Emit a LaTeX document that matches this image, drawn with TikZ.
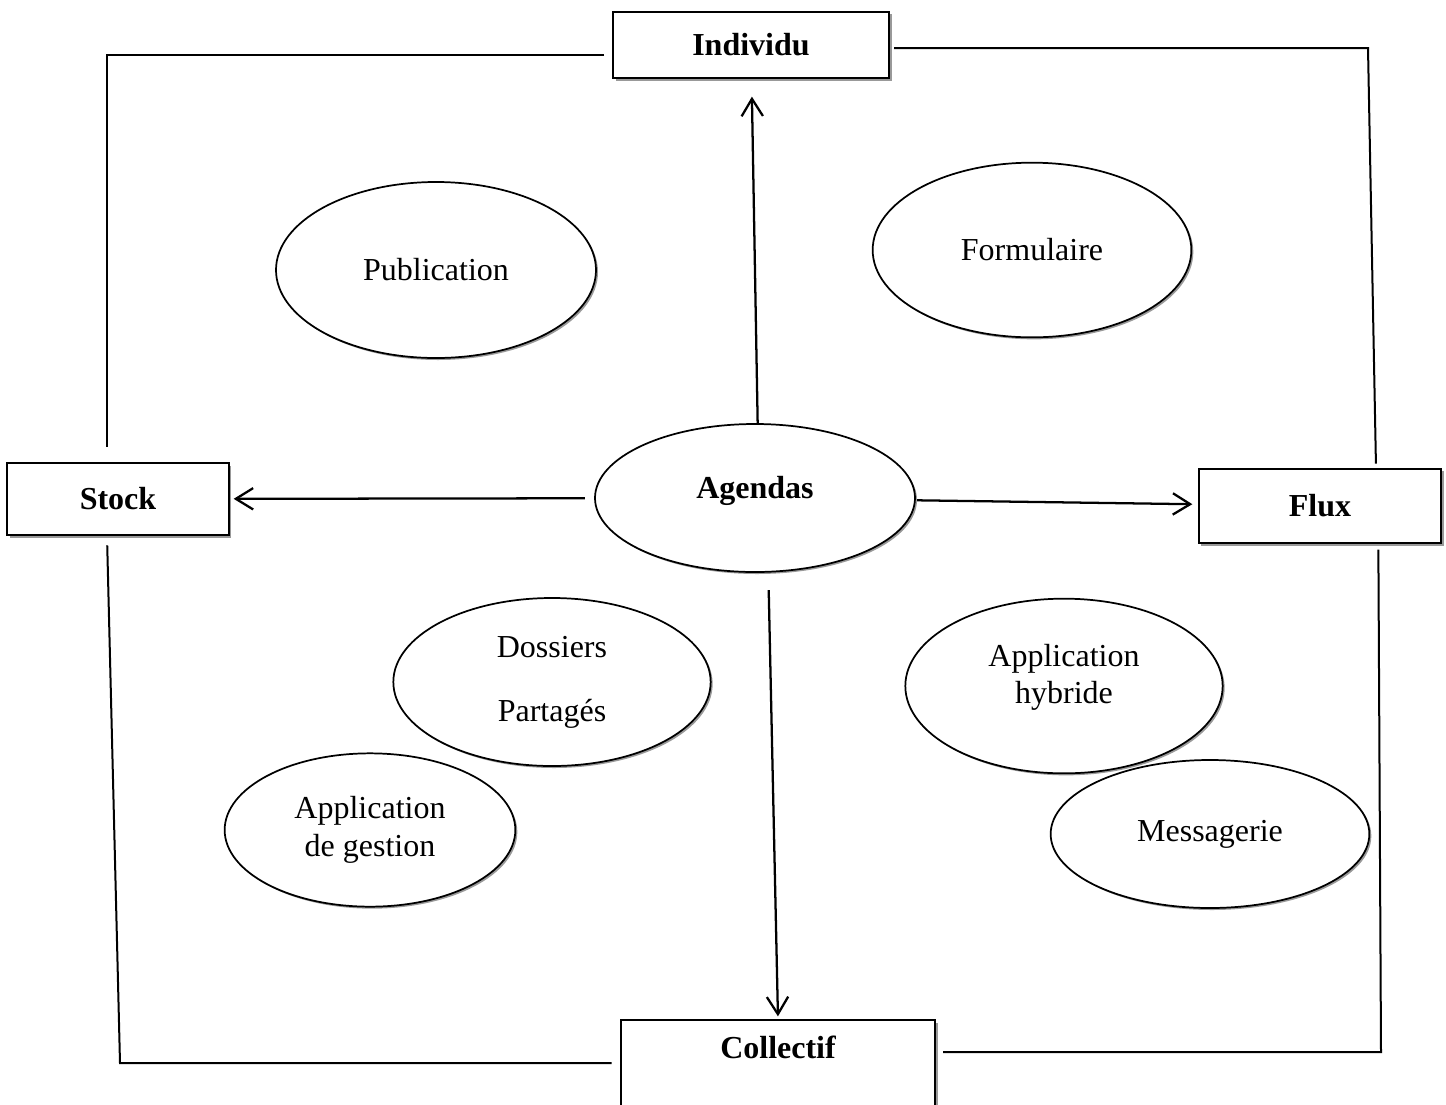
\documentclass[tikz,border=0pt]{standalone}
\usepackage{fontspec}
\setmainfont{Liberation Serif}
\usetikzlibrary{shapes.geometric,shadows,arrows.meta}

\begin{document}
\begin{tikzpicture}[x=0.75pt,y=-0.75pt,
        every node/.style={font=\fontsize{24}{28}\selectfont},
        box/.style={rectangle, draw=black, line width=1.5pt, fill=white, inner sep=0pt,
            font=\fontsize{24}{28}\selectfont\bfseries,
            drop shadow={shadow xshift=2pt, shadow yshift=-2pt, fill=black!40, opacity=1}},
        bubble/.style={ellipse, draw=black, line width=1.3pt, fill=white, inner sep=0pt, align=center,
            drop shadow={shadow xshift=1.5pt, shadow yshift=-1.5pt, fill=black!40, opacity=1}},
        frame/.style={line width=1.5pt},
        arrow/.style={line width=1.7pt, -{Straight Barb[length=13pt, width=16pt, line width=1.7pt]}}]
    \useasboundingbox (0,0) rectangle (1446,1104);

    \node[box, minimum width=207pt, minimum height=50pt] (individu) at (751,45) {Individu};
    \node[box, minimum width=166pt, minimum height=54pt] (stock) at (118,499) {Stock};
    \node[box, minimum width=182pt, minimum height=56pt] (flux) at (1320,506) {Flux};
    \node[box, anchor=north, minimum width=236pt, text height=16pt, text depth=60pt, inner ysep=13pt] (collectif) at (778,1019) {Collectif};

    \node[bubble, minimum width=240pt, minimum height=111pt, text depth=16pt, font=\fontsize{24}{28}\selectfont\bfseries] (agendas) at (755,498) {Agendas};
    \node[bubble, minimum width=240pt, minimum height=132pt] (publication) at (436,270) {Publication};
    \node[bubble, minimum width=239pt, minimum height=131pt] (formulaire) at (1032,250) {Formulaire};
    \node[bubble, minimum width=238pt, minimum height=126pt] (dossiers) at (552,682) {Dossiers\\[20pt]Partagés};
    \node[bubble, minimum width=218pt, minimum height=115pt] (gestion) at (370,830) {Application\\de gestion};
    \node[bubble, minimum width=238pt, minimum height=131pt] (hybride) at (1064,686) {Application\\hybride\\[-10pt]\mbox{}};
    \node[bubble, minimum width=239pt, minimum height=111pt] (messagerie) at (1210,834) {Messagerie};

    \coordinate (tl) at (107,55);
    \coordinate (tr) at (1368,48);
    \coordinate (bl) at (120,1063);
    \coordinate (br) at (1381,1052);

    \draw[frame, shorten <=6pt, shorten >=11pt] (individu.west |- tl) -- (tl) -- (tl |- stock.north);
    \draw[frame, shorten <=3pt, shorten >=3pt] (individu.east |- tr) -- (tr) -- ([xshift=6pt]tr |- flux.north);
    \draw[frame, shorten <=7pt, shorten >=6pt] (tl |- stock.south) -- (bl) -- (collectif.west |- bl);
    \draw[frame, shorten <=4pt, shorten >=5pt] ([xshift=-2pt]br |- flux.south) -- (br) -- (collectif.east |- br);

    \draw[arrow, shorten >=13pt] ([xshift=2pt]agendas.north) -- (individu);
    \draw[arrow, shorten <=7pt, shorten >=3pt] (agendas) -- (stock);
    \draw[arrow, shorten <=1pt, shorten >=4pt] (agendas) -- (flux);
    \draw[arrow, shorten <=13pt, shorten >=2pt] ([xshift=10pt]agendas.south) -- (collectif.north);
\end{tikzpicture}
\end{document}
